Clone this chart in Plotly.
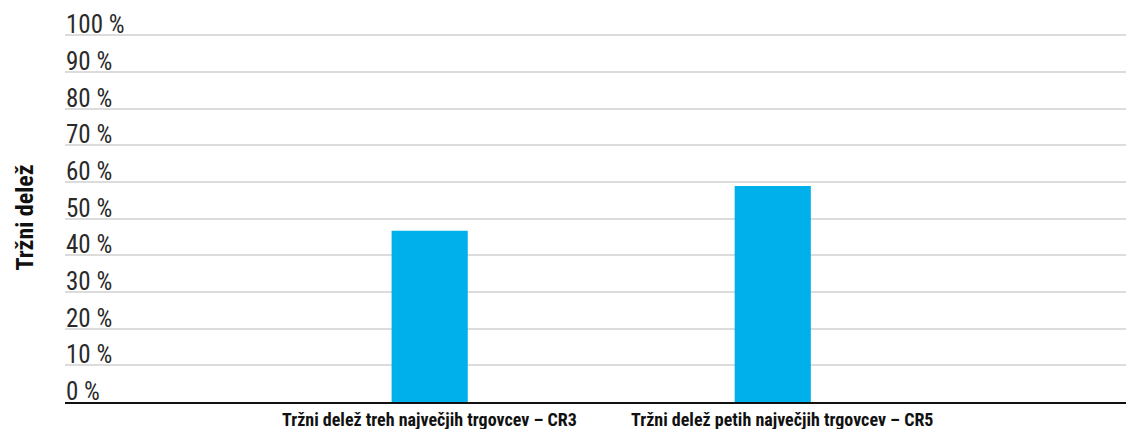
import plotly.graph_objects as go

categories = ["Tržni delež treh največjih trgovcev – CR3", "Tržni delež petih največjih trgovcev – CR5"]
values = [46.7, 58.9]
tick_vals = [0, 10, 20, 30, 40, 50, 60, 70, 80, 90, 100]
tick_text = [f"{v} %" for v in tick_vals]
y_title = "Tržni delež"

COND = "Roboto Condensed, Liberation Sans Narrow, DejaVu Sans Condensed, sans-serif"

# page body has an 8px margin; compensate so the plot lands where the reference has it
fig = go.Figure()
fig.add_trace(go.Bar(
    x=categories, y=values,
    marker=dict(color="#00B0EA", line=dict(width=0)),
    width=0.222,
    hoverinfo="x+y",
))

Y_TOP = 107.5
fig.update_layout(
    width=1134, height=429,
    margin=dict(l=57, r=8, t=0, b=35, pad=0),
    paper_bgcolor="white", plot_bgcolor="white",
    showlegend=False,
    font=dict(family=COND, color="#222"),
    xaxis=dict(
        type="category",
        range=[-1.063, 2.053],
        showticklabels=False,
        showgrid=False,
        showline=True, linecolor="#111", linewidth=2,
        ticks="",
        fixedrange=True,
    ),
    yaxis=dict(
        range=[0, Y_TOP],
        tickvals=tick_vals,
        showticklabels=False,
        showgrid=True, gridcolor="#dcdcdc", gridwidth=1.5,
        zeroline=False, showline=False, ticks="",
        fixedrange=True,
    ),
)

# tick labels sit just above their gridline, left-aligned inside the plot
for v, t in zip(tick_vals, tick_text):
    fig.add_annotation(
        x=0, xref="paper", y=v, yref="y",
        xanchor="left", yanchor="bottom", xshift=-1, yshift=-6,
        text=t, showarrow=False,
        font=dict(size=25, color="#2a2a2a", family=COND),
    )

offsets = [0, 9]
for cat, dx in zip(categories, offsets):
    fig.add_annotation(
        x=cat, xref="x", y=0, yref="paper",
        yanchor="top", yshift=-5, xshift=dx, xanchor="center",
        text=f"<b>{cat}</b>", showarrow=False,
        font=dict(size=18, color="#111", family=COND),
    )

fig.add_annotation(
    x=0, xref="paper", xshift=-40, xanchor="center",
    y=0.468, yref="paper", yanchor="middle",
    text=f"<b>{y_title}</b>", textangle=-90, showarrow=False,
    font=dict(size=24, color="#111", family=COND),
)

fig.write_html("out.html")
